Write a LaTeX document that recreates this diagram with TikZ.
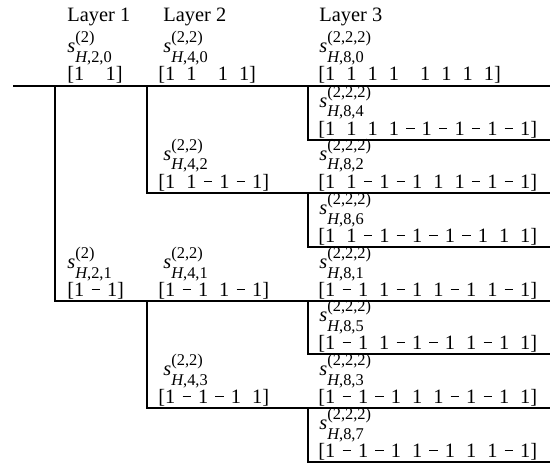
\documentclass[tikz,border=0pt]{standalone}
\usepackage{fontspec}
\setmainfont{Liberation Serif}

% spacing inside the sign vectors
\newcommand\gp{\hspace{0.54em}}
\newcommand\wgp{\hspace{1.04em}}
% a minus entry: gap, dash, gap
\newcommand\mg{\hspace{0.35em}\rule[0.3em]{0.41em}{0.055em}\hspace{0.35em}}
% s with superscript (#1) and subscript H,#2
\newcommand\slab[2]{\textit{s}\rlap{\raisebox{5pt}{\fontsize{8.2}{8.2}\selectfont(#1)}}\raisebox{-5pt}{\fontsize{8.2}{8.2}\selectfont\textit{H},#2}}

\begin{document}
\begin{tikzpicture}[x=0.5pt,y=-0.5pt,
  wire/.style={line width=1.1pt},
  txt/.style={anchor=base west, inner sep=0pt, font=\fontsize{10.2}{12}\selectfont}]
\useasboundingbox (0,0) rectangle (556,465);

% branch points and line ends
\coordinate (in) at (13,86);
\coordinate (f1) at (55,86);
\coordinate (f2a) at (147,86);
\coordinate (f2b) at (147,301);
\coordinate (f3a) at (308,86);
\coordinate (f3b) at (308,193);
\coordinate (f3c) at (308,301);
\coordinate (f3d) at (308,408);
\coordinate (o0) at (550,86);
\coordinate (o4) at (550,140);
\coordinate (o2) at (550,193);
\coordinate (o6) at (550,247);
\coordinate (o1) at (550,301);
\coordinate (o5) at (550,354);
\coordinate (o3) at (550,408);
\coordinate (o7) at (550,462);

\draw[wire] (in) -- (o0);
\draw[wire] (f1) |- (o1);
\draw[wire] (f2a) |- (o2);
\draw[wire] (f2b) |- (o3);
\draw[wire] (f3a) |- (o4);
\draw[wire] (f3b) |- (o6);
\draw[wire] (f3c) |- (o5);
\draw[wire] (f3d) |- (o7);

% headers
\node[txt] (h1) at (67,22) {Layer 1};
\node[txt] (h2) at (163,22) {Layer 2};
\node[txt] (h3) at (319,22) {Layer 3};

% layer 1
\node[txt] (s20) at (67,53) {\slab{2}{2,0}};
\node[txt] (v20) at (67,81) {[1\wgp1]};
\node[txt] (s21) at (67,268) {\slab{2}{2,1}};
\node[txt] (v21) at (67,296) {[1\mg1]};

% layer 2
\node[txt] (s40) at (163,53) {\slab{2,2}{4,0}};
\node[txt] (v40) at (158,81) {[1\gp1\wgp1\gp1]};
\node[txt] (s42) at (163,160) {\slab{2,2}{4,2}};
\node[txt] (v42) at (158,188) {[1\gp1\mg1\mg1]};
\node[txt] (s41) at (163,268) {\slab{2,2}{4,1}};
\node[txt] (v41) at (158,296) {[1\mg1\gp1\mg1]};
\node[txt] (s43) at (163,375) {\slab{2,2}{4,3}};
\node[txt] (v43) at (158,403) {[1\mg1\mg1\gp1]};

% layer 3
\node[txt] (s80) at (319,53) {\slab{2,2,2}{8,0}};
\node[txt] (v80) at (318,81) {[1\gp1\gp1\gp1\wgp1\gp1\gp1\gp1]};
\node[txt] (s84) at (319,107) {\slab{2,2,2}{8,4}};
\node[txt] (v84) at (318,135) {[1\gp1\gp1\gp1\mg1\mg1\mg1\mg1]};
\node[txt] (s82) at (319,160) {\slab{2,2,2}{8,2}};
\node[txt] (v82) at (318,188) {[1\gp1\mg1\mg1\gp1\gp1\mg1\mg1]};
\node[txt] (s86) at (319,214) {\slab{2,2,2}{8,6}};
\node[txt] (v86) at (318,242) {[1\gp1\mg1\mg1\mg1\mg1\gp1\gp1]};
\node[txt] (s81) at (319,268) {\slab{2,2,2}{8,1}};
\node[txt] (v81) at (318,296) {[1\mg1\gp1\mg1\gp1\mg1\gp1\mg1]};
\node[txt] (s85) at (319,321) {\slab{2,2,2}{8,5}};
\node[txt] (v85) at (318,349) {[1\mg1\gp1\mg1\mg1\gp1\mg1\gp1]};
\node[txt] (s83) at (319,375) {\slab{2,2,2}{8,3}};
\node[txt] (v83) at (318,403) {[1\mg1\mg1\gp1\gp1\mg1\mg1\gp1]};
\node[txt] (s87) at (319,429) {\slab{2,2,2}{8,7}};
\node[txt] (v87) at (318,457) {[1\mg1\mg1\gp1\mg1\gp1\gp1\mg1]};
\end{tikzpicture}
\end{document}
